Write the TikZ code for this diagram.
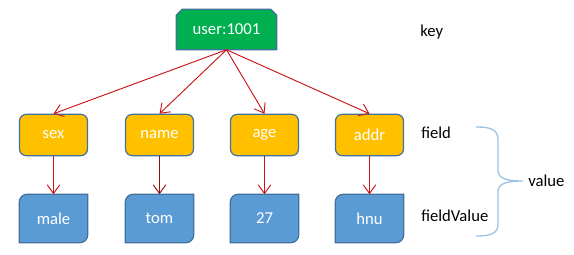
\documentclass[tikz,border=0pt]{standalone}
\usepackage{fontspec}
\setmainfont{Carlito}
\usepackage{tikz}
\usetikzlibrary{arrows.meta,positioning,backgrounds}
\definecolor{keyGreen}{RGB}{0,176,80}
\definecolor{fieldGold}{RGB}{255,192,0}
\definecolor{valBlue}{RGB}{91,155,213}
\definecolor{edgeBlue}{RGB}{65,113,156}
\definecolor{arrowRed}{RGB}{200,20,20}
\definecolor{braceBlue}{RGB}{157,195,230}

\tikzset{
  keynode/.style={rectangle, minimum width=75pt, minimum height=30pt, inner sep=0pt, text=white},
  keyfill/.style={draw=edgeBlue, fill=keyGreen, line width=0.9pt},
  fieldbox/.style={rectangle, rounded corners=5pt, draw=edgeBlue, fill=fieldGold,
    line width=0.9pt, text=white, minimum width=51pt, minimum height=31pt, inner sep=0pt},
  valnode/.style={rectangle, minimum width=51pt, minimum height=36pt, inner sep=0pt, text=white},
  valfill/.style={draw=edgeBlue, fill=valBlue, line width=0.9pt},
  redarrow/.style={draw=arrowRed, line width=0.7pt, -{Straight Barb[length=6.5pt,width=9.5pt]}},
  label/.style={anchor=west, inner sep=0pt}
}

% key box: top corners snipped
\newcommand{\keybox}[3]{%
  \node[keynode] (#1) at (#2) {#3};
  \begin{scope}[on background layer]
    \draw[keyfill] (#1.south west) -- ([yshift=-4.5pt]#1.north west)
      -- ([xshift=4.5pt]#1.north west) -- ([xshift=-4.5pt]#1.north east)
      -- ([yshift=-4.5pt]#1.north east) -- (#1.south east) -- cycle;
  \end{scope}}

% value box: round top-left and bottom-right corners only
\newcommand{\valbox}[3]{%
  \node[valnode] (#1) at (#2) {#3};
  \begin{scope}[on background layer]
    \draw[valfill] (#1.west) [rounded corners=6pt] -- (#1.north west) -- (#1.north)
      [sharp corners] -- (#1.north east) -- (#1.east)
      [rounded corners=6pt] -- (#1.south east) -- (#1.south)
      [sharp corners] -- (#1.south west) -- cycle;
  \end{scope}}

\begin{document}
\begin{tikzpicture}[x=0.75pt, y=-0.75pt, font=\fontsize{12.5}{15}\selectfont]
  \useasboundingbox (0,0) rectangle (574,254);
  % key
  \keybox{key}{226.5,29.5}{user:1001}
  % fields
  \node[fieldbox] (sex)  at (53.5,135)  {sex};
  \node[fieldbox] (name) at (159.5,135) {name};
  \node[fieldbox] (age)  at (264.5,135) {age};
  \node[fieldbox] (addr) at (369.5,135) {addr};
  % field values
  \valbox{male}{53.5,218.5}{male}
  \valbox{tom}{159.5,218.5}{tom}
  \valbox{n27}{264.5,218.5}{27}
  \valbox{hnu}{369.5,218.5}{hnu}
  % arrows
  \foreach \f in {sex,name,age,addr}
    \draw[redarrow] (key.south) -- (\f.north);
  \draw[redarrow] (sex) -- (male);
  \draw[redarrow, draw=arrowRed!70!black] (name) -- (tom);
  \draw[redarrow] (age) -- (n27);
  \draw[redarrow] (addr) -- (hnu);
  % labels
  \node[label] (keylbl) at (420,32) {key};
  \node[label] (fieldlbl) at (421,133) {field};
  \node[label] (fvlbl) at (421,216) {fieldValue};
  \node[label] (vallbl) at (528,181) {value};
  % brace
  \draw[braceBlue, line width=1pt] (476,127) .. controls (490,127) and (498,129) .. (498,140)
    -- (498,170) .. controls (498,178) and (505,181) .. (523,181)
    .. controls (505,181) and (498,184) .. (498,192)
    -- (498,224) .. controls (498,234) and (490,236) .. (476,236);
\end{tikzpicture}
\end{document}
